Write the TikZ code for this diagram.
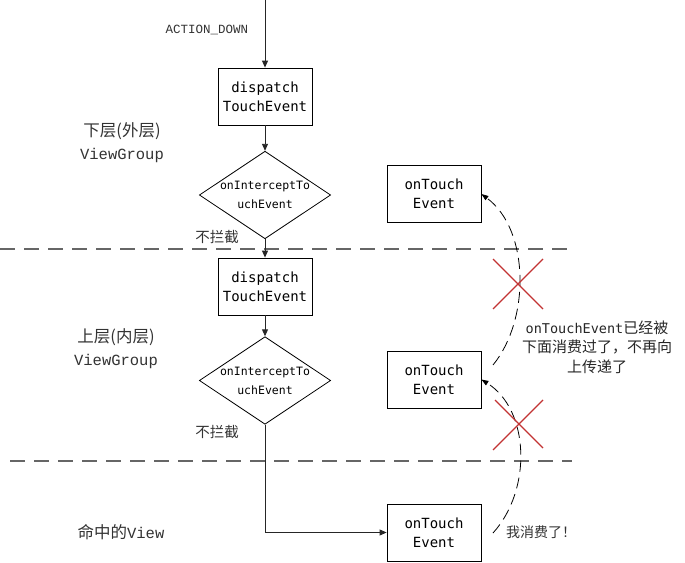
\documentclass[tikz,border=0pt]{standalone}
\usepackage{fontspec}
\setmainfont{Liberation Mono}
\newfontfamily\cjk{Noto Sans CJK SC}
\newfontfamily\boxfont{DejaVu Sans Mono}
\usetikzlibrary{arrows.meta,shapes.geometric}
\begin{document}
\begin{tikzpicture}[x=1pt,y=-1pt,
  flow/.style={draw=black!85, line width=0.9pt, -{Triangle[length=7pt,width=6pt]}},
  evbox/.style={draw=black, line width=0.8pt, minimum width=94pt, minimum height=57pt, align=center, font=\boxfont\fontsize{14}{19}\selectfont, inner sep=0pt},
  decide/.style={draw=black, line width=0.8pt, diamond, minimum width=128pt, minimum height=86pt, aspect=1.5, align=center, font=\boxfont\fontsize{11.5}{19}\selectfont, inner sep=0pt},
  divider/.style={draw=black!60, line width=1.3pt, dash pattern=on 15pt off 9pt},
  passback/.style={draw=black, line width=0.8pt, dash pattern=on 11pt off 6pt, -{Triangle[length=7pt,width=5pt]}},
  cross/.style={draw=red!70!black!80, line width=1.2pt},
  lab/.style={font=\fontsize{15.5}{23}\selectfont, align=left, inner sep=0pt, text=black!80},
  cn/.style={font=\cjk\fontsize{14}{19}\selectfont, inner sep=0pt, text=black!80}]
\useasboundingbox (0,0) rectangle (685,562);
% dividers
\draw[divider] (0,249) -- (570,249);
\draw[divider] (10,461) -- (572,461);
% left column
\coordinate (start) at (265,0);
\node[evbox] (d1) at (265,96.5) {dispatch\\TouchEvent};
\node[decide] (i1) at (265,195) {onInterceptTo\\uchEvent};
\node[evbox] (d2) at (265,286.5) {dispatch\\TouchEvent};
\node[decide] (i2) at (265,380.5) {onInterceptTo\\uchEvent};
\node[evbox] (v) at (434,532.5) {onTouch\\Event};
% right column
\node[evbox] (t1) at (434,194) {onTouch\\Event};
\node[evbox] (t2) at (434,379.5) {onTouch\\Event};
% flow arrows
\draw[flow] (start) -- (d1);
\draw[flow] (d1) -- (i1);
\draw[flow] (i1) -- (d2);
\draw[flow] (d2) -- (i2);
\draw[flow] (i2.south) |- (v.west);
% labels
\node[font=\fontsize{12.5}{15}\selectfont, text=black!80, inner sep=0pt] (ad) at (207,30) {ACTION\_DOWN};
\node[lab, align=center] (g1) at (122,143) {{\cjk\fontsize{16.5}{23}\selectfont 下层(外层)}\\ViewGroup};
\node[lab, align=center] (g2) at (116,349) {{\cjk\fontsize{16.5}{23}\selectfont 上层(内层)}\\ViewGroup};
\node[lab] (g3) at (121,532) {{\cjk\fontsize{16.5}{23}\selectfont 命中的}View};
\node[cn, font=\cjk\fontsize{14.5}{19}\selectfont] (n1) at (217,237) {不拦截};
\node[cn, font=\cjk\fontsize{14.5}{19}\selectfont] (n2) at (217,432) {不拦截};
% passback curves
\coordinate (c1s) at (493,365);
\coordinate (c2s) at (493,533);
\draw[passback] (c1s) .. controls (530,320) and (530,230) .. (t1.east);
\draw[passback] (c2s) .. controls (532,490) and (530,410) .. (t2.east);
% crosses
\draw[cross] (493,259) -- (543,309);
\draw[cross] (543,259) -- (493,309);
\draw[cross] (495,400) -- (543,448);
\draw[cross] (543,400) -- (493,450);
% notes
\node[align=center, inner sep=0pt, text=black!85, font=\cjk\fontsize{15}{19.5}\selectfont] (note) at (597,347) {{\boxfont\fontsize{13.5}{19.5}\selectfont onTouchEvent}已经被\\下面消费过了，不再向\\上传递了};
\node[cn, font=\cjk\fontsize{14}{19}\selectfont] (me) at (541,532) {我消费了！};
\end{tikzpicture}
\end{document}
